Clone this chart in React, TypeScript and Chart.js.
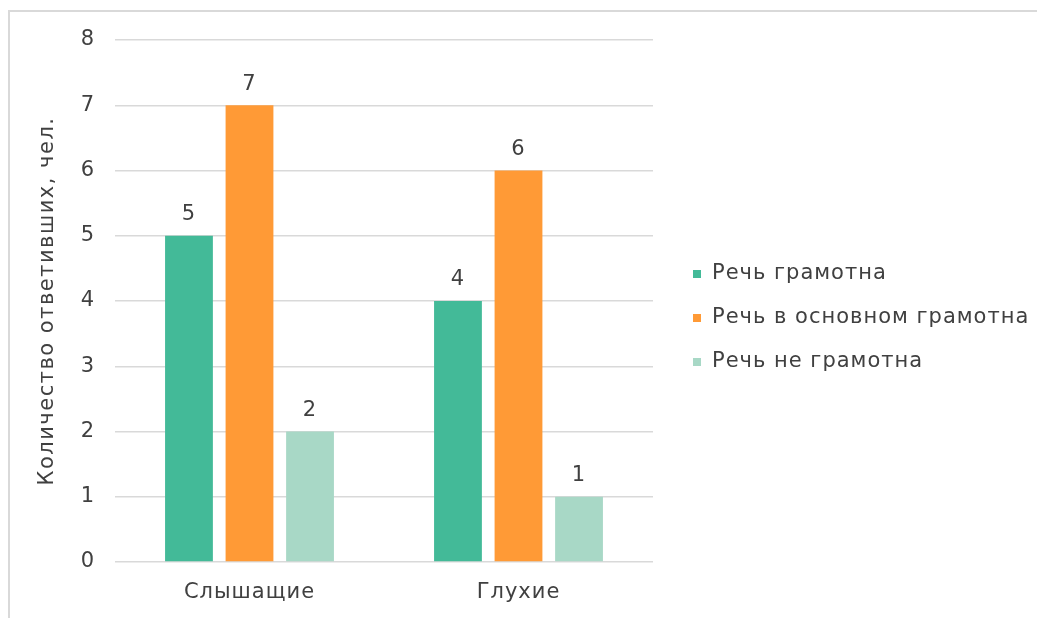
import React, { useEffect, useRef } from "react";
import { Chart, registerables } from "chart.js";

Chart.register(...registerables);

const categories = ["Слышащие", "Глухие"];
const seriesLabels = ["Речь грамотна", "Речь в основном грамотна", "Речь не грамотна"];
const literate = [5, 4];
const mostlyLiterate = [7, 6];
const notLiterate = [2, 1];
const seriesColors = ["#43BA98", "#FF9A36", "#A8D8C6"];
const yTicks = [0, 1, 2, 3, 4, 5, 6, 7, 8];
const yTitle = "Количество ответивших, чел.";

const FONT = "'DejaVu Sans', sans-serif";
const TEXT = "#404040";

const spacing = {
  id: "spacing",
  beforeDraw(chart: any) {
    chart.ctx.letterSpacing = "1px";
  },
  afterDraw(chart: any) {
    chart.ctx.letterSpacing = "0px";
  },
};

const valueLabels = {
  id: "valueLabels",
  afterDatasetsDraw(chart: any) {
    const ctx = chart.ctx;
    ctx.save();
    ctx.font = `21px ${FONT}`;
    ctx.fillStyle = TEXT;
    ctx.textAlign = "center";
    ctx.textBaseline = "middle";
    chart.data.datasets.forEach((ds: any, i: number) => {
      const meta = chart.getDatasetMeta(i);
      meta.data.forEach((bar: any, j: number) => {
        ctx.fillText(String(ds.data[j]), bar.x, bar.y - 21);
      });
    });
    ctx.restore();
  },
};

const sideText = {
  id: "sideText",
  afterDraw(chart: any) {
    const ctx = chart.ctx;
    const area = chart.chartArea;
    // legend
    const x = area.right + 40;
    const gap = 44;
    const n = chart.data.datasets.length;
    const cy = chart.height / 2 + 3;
    ctx.save();
    ctx.font = `21px ${FONT}`;
    ctx.letterSpacing = "1px";
    ctx.textBaseline = "middle";
    ctx.textAlign = "left";
    chart.data.datasets.forEach((ds: any, i: number) => {
      const y = cy + (i - (n - 1) / 2) * gap;
      ctx.fillStyle = ds.backgroundColor;
      ctx.fillRect(x, y - 4, 8, 8);
      ctx.fillStyle = TEXT;
      ctx.fillText(ds.label, x + 19, y);
    });
    ctx.restore();
    // y-axis title
    ctx.save();
    ctx.font = `21px ${FONT}`;
    ctx.letterSpacing = "1.5px";
    ctx.fillStyle = TEXT;
    ctx.textAlign = "center";
    ctx.textBaseline = "middle";
    ctx.translate(38, (area.top + area.bottom) / 2);
    ctx.rotate(-Math.PI / 2);
    ctx.fillText(yTitle, 0, 0);
    ctx.restore();
  },
};

export default function App() {
  const ref = useRef<HTMLCanvasElement>(null);
  useEffect(() => {
    if (!ref.current) return;
    const data = [literate, mostlyLiterate, notLiterate];
    const chart = new Chart(ref.current, {
      type: "bar",
      data: {
        labels: categories,
        datasets: seriesLabels.map((label, i) => ({
          label,
          data: data[i],
          backgroundColor: seriesColors[i],
          categoryPercentage: 0.675,
          barPercentage: 0.79,
        })),
      },
      options: {
        responsive: false,
        animation: false,
        layout: { padding: { left: 22, right: 384, top: 28, bottom: 14 } },
        plugins: { legend: { display: false }, tooltip: { enabled: false } },
        scales: {
          x: {
            grid: { display: false, drawTicks: false },
            border: { display: false },
            ticks: { color: TEXT, font: { family: FONT, size: 21 }, padding: 18 },
            afterFit(scale: any) {
              scale.height = 42;
              scale.paddingLeft = 0;
              scale.paddingRight = 0;
            },
          },
          y: {
            min: 0,
            max: 8,
            afterBuildTicks(scale: any) {
              scale.ticks = yTicks.map((v) => ({ value: v }));
            },
            afterFit(scale: any) {
              scale.width = 83;
              scale.paddingTop = 0;
              scale.paddingBottom = 0;
            },
            grid: { color: "#D9D9D9", lineWidth: 1.5, drawTicks: false },
            border: { display: false },
            ticks: { color: TEXT, font: { family: FONT, size: 21 }, padding: 20 },
          },
        },
      },
      plugins: [spacing, valueLabels, sideText],
    });
    return () => chart.destroy();
  }, []);
  return (
    <div
      style={{
        position: "fixed",
        left: 8,
        top: 10,
        borderTop: "2px solid #D9D9D9",
        borderLeft: "2px solid #D9D9D9",
        width: 1100,
        height: 700,
        background: "#fff",
        overflow: "hidden",
      }}
    >
      <canvas ref={ref} width={1027} height={606} style={{ display: "block" }} />
    </div>
  );
}
